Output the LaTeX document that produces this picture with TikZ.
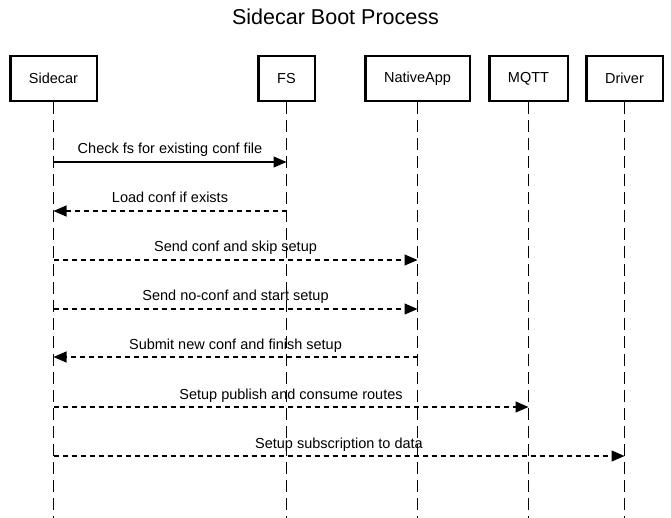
\documentclass[tikz,border=0pt]{standalone}
\usepackage{fontspec}
\setmainfont{Liberation Sans}
\usetikzlibrary{arrows.meta,calc}
\begin{document}
\begin{tikzpicture}[x=1pt,y=1pt,
  actor/.style={draw=black,line width=2.5pt,fill=white,minimum height=45pt,inner sep=0pt,font=\fontsize{14.5}{17}\selectfont},
  lifeline/.style={line width=1.3pt,dash pattern=on 12pt off 6pt},
  msg/.style={line width=1.2pt,-{Triangle[length=13pt,width=11pt]}},
  rmsg/.style={msg,dash pattern=on 5pt off 4pt},
  mlabel/.style={anchor=base,inner sep=0pt,font=\fontsize{14.5}{17}\selectfont}]
\useasboundingbox (0,0) rectangle (671,-518);
\node[anchor=base,inner sep=0pt,font=\fontsize{21.5}{25}\selectfont] (title) at (335.5,-24.5) {Sidecar Boot Process};
% actors
\node[actor,minimum width=86.5pt] (sc) at (53.5,-78.5) {Sidecar};
\node[actor,minimum width=56.5pt] (fs) at (286.5,-78.5) {FS};
\node[actor,minimum width=104.5pt] (na) at (417.5,-78.5) {NativeApp};
\node[actor,minimum width=78.5pt] (mq) at (528.5,-78.5) {MQTT};
\node[actor,minimum width=76.5pt] (dr) at (624.5,-78.5) {Driver};
% lifeline ends
\coordinate (scE) at (53.5,-518);
\coordinate (fsE) at (286.5,-518);
\coordinate (naE) at (417.5,-518);
\coordinate (mqE) at (528.5,-518);
\coordinate (drE) at (624.5,-518);
\draw[lifeline] (sc.south) -- (scE);
\draw[lifeline] (fs.south) -- (fsE);
\draw[lifeline] (na.south) -- (naE);
\draw[lifeline] (mq.south) -- (mqE);
\draw[lifeline] (dr.south) -- (drE);
% message endpoints
\coordinate (a1) at (53.5,-162);  \coordinate (b1) at (286.5,-162);
\coordinate (a2) at (53.5,-211);  \coordinate (b2) at (286.5,-211);
\coordinate (a3) at (53.5,-260);  \coordinate (b3) at (417.5,-260);
\coordinate (a4) at (53.5,-309);  \coordinate (b4) at (417.5,-309);
\coordinate (a5) at (53.5,-357);  \coordinate (b5) at (417.5,-357);
\coordinate (a6) at (53.5,-407);  \coordinate (b6) at (528.5,-407);
\coordinate (a7) at (53.5,-456);  \coordinate (b7) at (624.5,-456);
% messages
\draw[msg] (a1) -- (b1);
\node[mlabel] (l1) at ($(a1)!0.5!(b1)+(0,8)$) {Check fs for existing conf file};
\draw[rmsg] (b2) -- (a2);
\node[mlabel] (l2) at ($(a2)!0.5!(b2)+(0,8)$) {Load conf if exists};
\draw[rmsg] (a3) -- (b3);
\node[mlabel] (l3) at ($(a3)!0.5!(b3)+(0,8)$) {Send conf and skip setup};
\draw[rmsg] (a4) -- (b4);
\node[mlabel] (l4) at ($(a4)!0.5!(b4)+(0,8)$) {Send no-conf and start setup};
\draw[rmsg] (b5) -- (a5);
\node[mlabel] (l5) at ($(a5)!0.5!(b5)+(0,8)$) {Submit new conf and finish setup};
\draw[rmsg] (a6) -- (b6);
\node[mlabel] (l6) at ($(a6)!0.5!(b6)+(0,8)$) {Setup publish and consume routes};
\draw[rmsg] (a7) -- (b7);
\node[mlabel] (l7) at ($(a7)!0.5!(b7)+(0,8)$) {Setup subscription to data};
\end{tikzpicture}
\end{document}
